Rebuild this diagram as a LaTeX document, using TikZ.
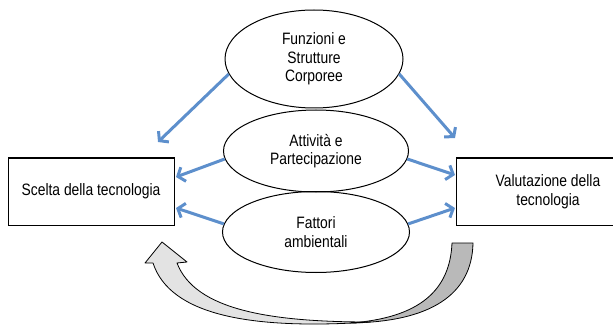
\documentclass[tikz,border=0pt]{standalone}
\usepackage{fontspec}
\setmainfont{Liberation Sans}[FakeStretch=0.84]
\usetikzlibrary{shapes.geometric}
\usetikzlibrary{arrows.meta}
\definecolor{linkblue}{RGB}{93,143,204}

\begin{document}
\begin{tikzpicture}[x=1pt,y=-1pt,
		every node/.style={font=\fontsize{16.5}{18.5}\selectfont},
		factor/.style={ellipse,draw,line width=1pt,align=center,inner sep=0pt},
		technode/.style={rectangle,draw,line width=1pt,align=center,minimum width=166pt,minimum height=67pt},
		link/.style={draw=linkblue,line width=3pt,-{Straight Barb[length=6pt,width=15pt]}},
		bandlight/.style={fill=gray!22,draw=black,line width=0.8pt,line join=round},
		banddark/.style={fill=gray!55,draw=black,line width=0.8pt,line join=round}
		]
		\useasboundingbox (0,0) rectangle (613,326);
		% factors
		\node (fsc) [factor,minimum width=178pt,minimum height=98pt] at (314,59) {Funzioni e\\Strutture\\Corporee};
		\node (ap) [factor,minimum width=185pt,minimum height=82pt] at (316,151) {Attività e\\Partecipazione};
		\node (fa) [factor,minimum width=187pt,minimum height=81pt] at (316,232) {Fattori\\ambientali};
		% technology boxes
		\node (scelta) [technode] at (91,191.5) {Scelta della tecnologia};
		\node (valut) [technode,minimum width=184pt] at (548,191.5) {Valutazione della\\tecnologia};
		% arrow ends
		\coordinate (sceltaTop) at (158,142);
		\coordinate (valutTop) at (455,138);
		\coordinate (sceltaMid) at (176,177);
		\coordinate (valutMid) at (455,175);
		\coordinate (sceltaBot) at (176,208);
		\coordinate (valutBot) at (455,208);
		\draw[link] (fsc.190) -- (sceltaTop);
		\draw[link] (fsc.-10) -- (valutTop);
		\draw[link] (ap.185) -- (sceltaMid);
		\draw[link] (ap.-5) -- (valutMid);
		\draw[link] (fa.175) -- (sceltaBot);
		\draw[link] (fa.5) -- (valutBot);
		% feedback arrow
		\draw[banddark] (452,243) .. controls (450,290) and (420,318) .. (350,323)
			.. controls (430,322) and (472,295) .. (473,243) -- cycle;
		\draw[bandlight] (177,263) -- (187,262) -- (162,242) -- (145,263) -- (153,263)
			.. controls (170,315) and (250,330) .. (370,322)
			.. controls (270,322) and (195,310) .. (177,263) -- cycle;
\end{tikzpicture}
\end{document}
